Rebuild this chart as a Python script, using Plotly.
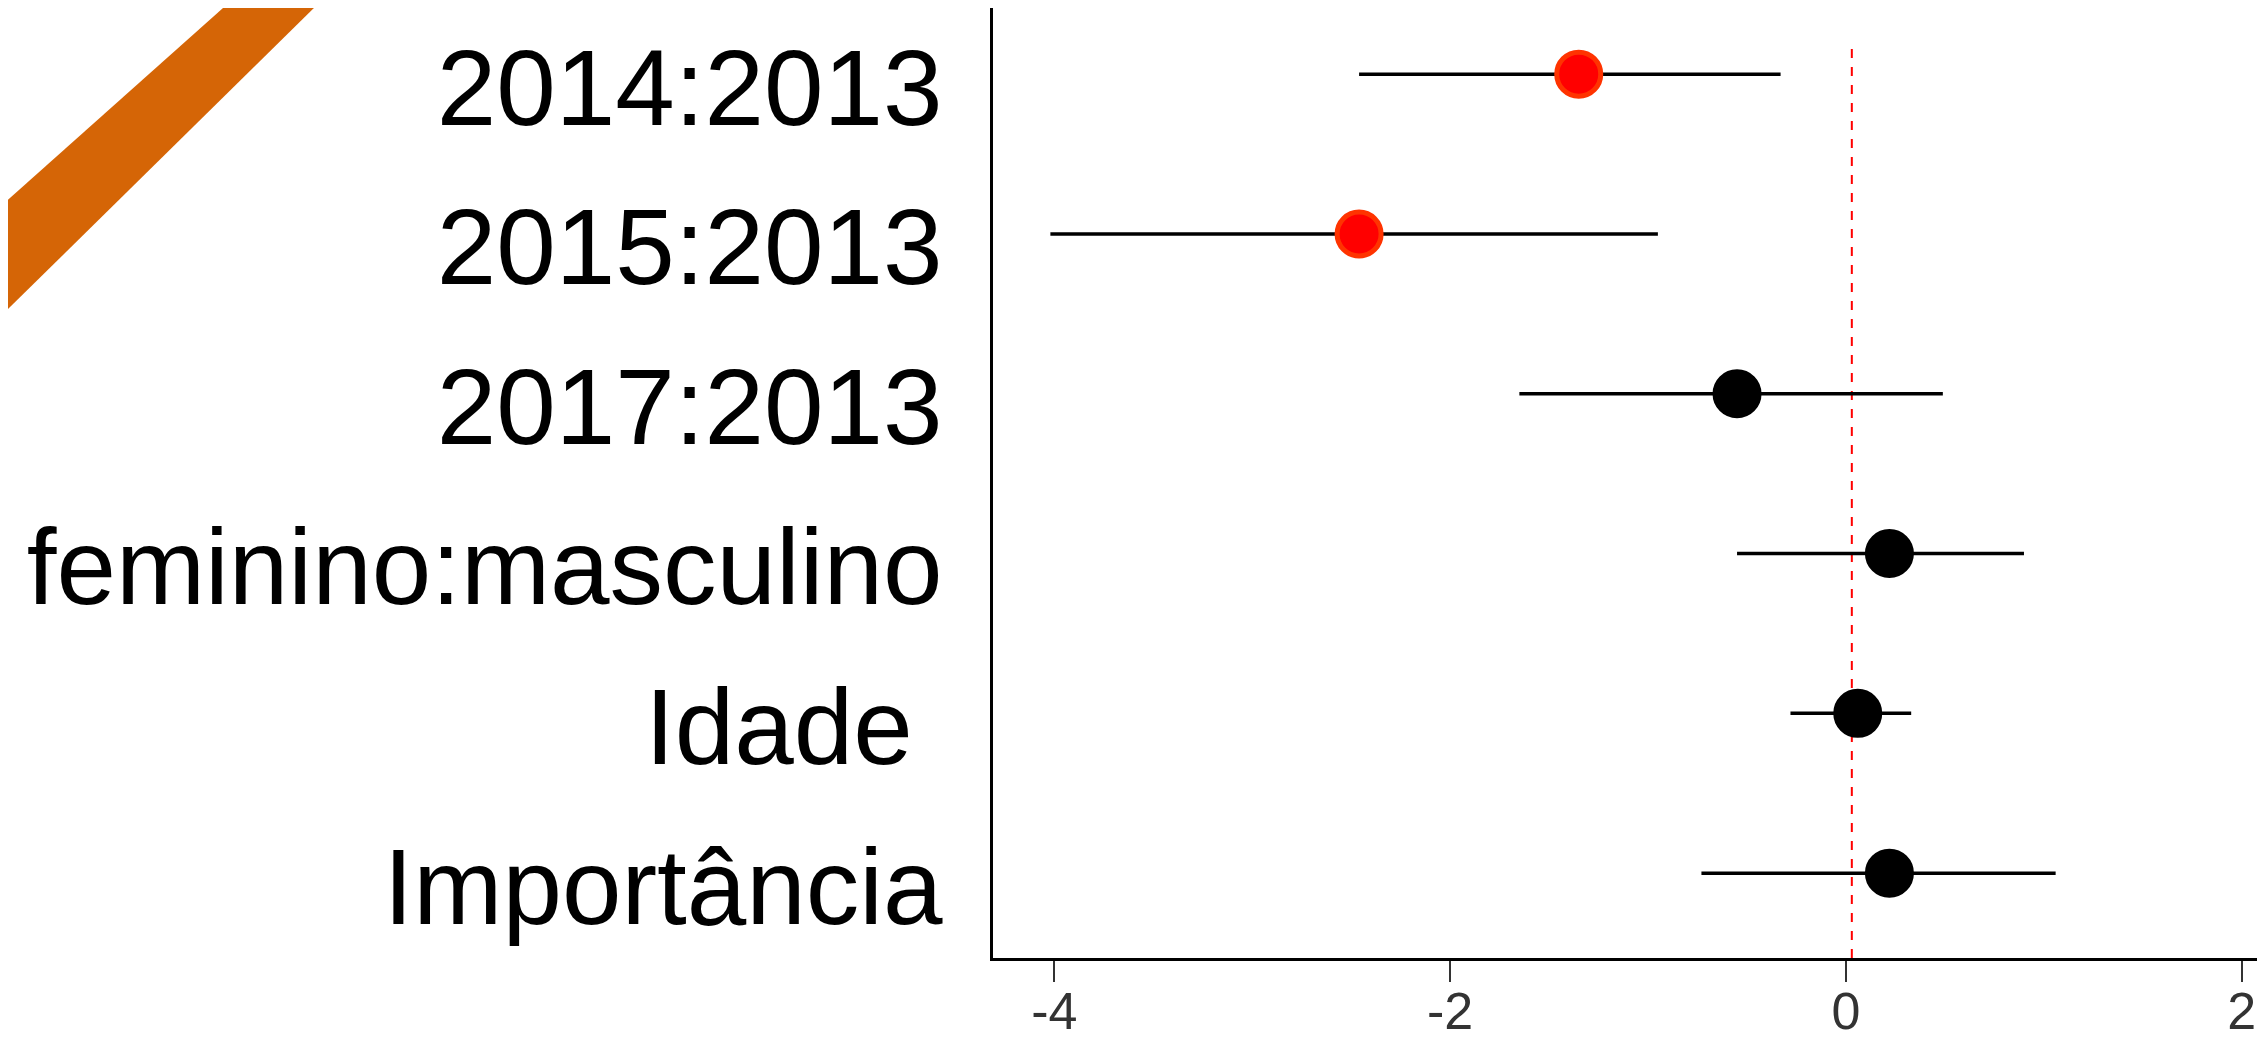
import plotly.graph_objects as go

# ---- data ----
terms = ["2014:2013", "2015:2013", "2017:2013", "feminino:masculino", "Idade", "Importância"]
term_labels = ["2014:2013", "2015:2013", "2017:2013", "feminino:masculino", "Idade\u00a0", "Importância"]
estimate = [-1.35, -2.46, -0.55, 0.22, 0.06, 0.22]
ci_low = [-2.46, -4.02, -1.65, -0.55, -0.28, -0.73]
ci_high = [-0.33, -0.95, 0.49, 0.90, 0.33, 1.06]
x_ticks = [-4, -2, 0, 2]
x_tick_labels = ["-4", "-2", "0", "2"]

# page has an 8px body margin, so the figure is drawn 8px in from the top-left
OFF = 8
W, H = 2265 - OFF, 1044 - OFF
ML = 993 - OFF
PLOT_H = 958 - OFF
MB = H - PLOT_H

significant = [hi < 0 or lo > 0 for lo, hi in zip(ci_low, ci_high)]
fill_colors = ["#ff0000" if s else "#000000" for s in significant]
line_colors = ["#ff3300" if s else "#000000" for s in significant]

fig = go.Figure()
fig.add_trace(go.Scatter(
    x=estimate, y=terms, mode="markers",
    marker=dict(size=44, color=fill_colors, line=dict(color=line_colors, width=5)),
    error_x=dict(type="data", symmetric=False,
                 array=[h - e for h, e in zip(ci_high, estimate)],
                 arrayminus=[e - l for e, l in zip(estimate, ci_low)],
                 color="black", thickness=3.5, width=0),
    showlegend=False, cliponaxis=False,
))

# zero reference line
fig.add_shape(type="line", xref="x", yref="paper", x0=0.03, x1=0.03, y0=0, y1=0.965,
              line=dict(color="red", width=2, dash="dash"), layer="below")

# decorative orange stripe in the top-left corner (page pixels)
plot_w = W - ML
def px(xp):
    return (xp - OFF - ML) / plot_w
def py(yp):
    return (PLOT_H - (yp - OFF)) / PLOT_H
stripe = [(232, 0), (322, 0), (0, 317), (0, 207)]
path = "M " + " L ".join(f"{px(a):.4f},{py(b):.4f}" for a, b in stripe) + " Z"
fig.add_shape(type="path", xref="paper", yref="paper", path=path,
              fillcolor="#d56506", line=dict(width=0), layer="above")

fig.update_layout(
    width=W, height=H,
    margin=dict(l=ML, r=0, t=0, b=MB, autoexpand=False),
    paper_bgcolor="white", plot_bgcolor="white",
    font=dict(family="Liberation Sans, Arial, sans-serif", color="black"),
    xaxis=dict(range=[-4.31, 2.118], tickvals=x_ticks, ticktext=x_tick_labels,
               automargin=False,
               showgrid=False, zeroline=False, showline=True, linecolor="black", linewidth=3,
               ticks="outside", ticklen=21, tickwidth=2, tickcolor="#333333",
               tickfont=dict(size=52, color="#333333"), ticklabelstandoff=-15),
    yaxis=dict(type="category", categoryarray=terms, tickvals=terms, ticktext=term_labels,
               range=[5.531, -0.414], automargin=False,
               showgrid=False, zeroline=False, showline=True, linecolor="black", linewidth=3,
               ticks="", tickfont=dict(size=107, color="black"), ticklabelstandoff=26,
               ticklabelshift=-13),
)

fig.write_html("out.html")
